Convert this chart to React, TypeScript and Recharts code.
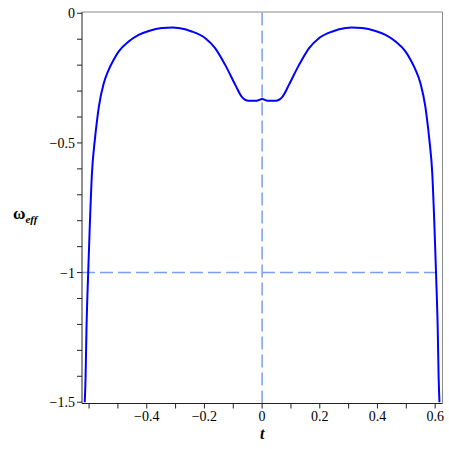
import React from 'react';
import { LineChart, Line, XAxis, YAxis, ReferenceLine, Label } from 'recharts';

const tValues = [
  -0.615, -0.612, -0.609, -0.603, -0.598, -0.59, -0.58, -0.572, -0.566, -0.549, -0.532, -0.515,
  -0.497, -0.463, -0.428, -0.393, -0.347, -0.31, -0.29, -0.244, -0.197, -0.163, -0.128, -0.093,
  -0.071, -0.047, -0.019, 0,
  0.019, 0.047, 0.071, 0.093, 0.128, 0.163, 0.197, 0.244, 0.29, 0.31, 0.347, 0.393, 0.428,
  0.463, 0.497, 0.515, 0.532, 0.549, 0.566, 0.572, 0.58, 0.59, 0.598, 0.603, 0.609, 0.612, 0.615,
];
const omegaValues = [
  -1.5, -1.4, -1.22, -1.0, -0.836, -0.617, -0.488, -0.41, -0.36, -0.27, -0.218, -0.18,
  -0.147, -0.109, -0.083, -0.068, -0.057, -0.055, -0.057, -0.07, -0.096, -0.134, -0.199, -0.276,
  -0.321, -0.337, -0.337, -0.331,
  -0.337, -0.337, -0.321, -0.276, -0.199, -0.134, -0.096, -0.07, -0.057, -0.055, -0.057, -0.068, -0.083,
  -0.109, -0.147, -0.18, -0.218, -0.27, -0.36, -0.41, -0.488, -0.617, -0.836, -1.0, -1.22, -1.4, -1.5,
];
const xTicks = [-0.6, -0.5, -0.4, -0.3, -0.2, -0.1, 0, 0.1, 0.2, 0.3, 0.4, 0.5, 0.6];
const xTickLabels = ['', '', '−0.4', '', '−0.2', '', '0', '', '0.2', '', '0.4', '', '0.6'];
const yTicks = [0, -0.1, -0.2, -0.3, -0.4, -0.5, -0.6, -0.7, -0.8, -0.9, -1, -1.1, -1.2, -1.3, -1.4, -1.5];
const yTickLabels = ['0', '', '', '', '', '−0.5', '', '', '', '', '−1', '', '', '', '', '−1.5'];

const X_DOMAIN: [number, number] = [-0.6245, 0.6255];
const Y_DOMAIN: [number, number] = [-1.505, 0.005];

const data = tValues.map((t, i) => ({ t, w: omegaValues[i] }));

const fontFamily = "'Times New Roman', Times, Tinos, 'Liberation Serif', 'Noto Serif', 'DejaVu Serif', serif";

const fmtX = (v: number) => {
  const i = xTicks.findIndex((x) => Math.abs(x - v) < 1e-9);
  return i >= 0 ? xTickLabels[i] : '';
};
const fmtY = (v: number) => {
  const i = yTicks.findIndex((y) => Math.abs(y - v) < 1e-9);
  return i >= 0 ? yTickLabels[i] : '';
};

export default function App() {
  return (
    <div style={{ position: 'absolute', left: 0, top: 0, width: 449, height: 449, background: '#fff', fontFamily }}>
      <LineChart width={449} height={449} data={data} margin={{ top: 12, right: 6.5, bottom: 0, left: 0 }} style={{ fontFamily }}>
        <XAxis
          dataKey="t"
          type="number"
          domain={X_DOMAIN}
          ticks={xTicks}
          tickFormatter={fmtX}
          interval={0}
          allowDataOverflow
          height={45.5}
          tickSize={5}
          tickMargin={3}
          stroke="#222"
          tick={{ fill: '#000', fontSize: 14, fontFamily, style: { fontFamily } }}
        >
          <Label
            content={(props: any) => {
              const vb = props.viewBox || {};
              return (
                <text
                  x={vb.x + vb.width / 2}
                  y={vb.y + 35}
                  textAnchor="middle"
                  style={{ fontFamily }}
                  fontWeight="bold"
                  fontStyle="italic"
                  fontSize={16}
                  fill="#000"
                >
                  t
                </text>
              );
            }}
          />
        </XAxis>
        <YAxis
          type="number"
          domain={Y_DOMAIN}
          ticks={yTicks}
          tickFormatter={fmtY}
          interval={0}
          allowDataOverflow
          width={82}
          tickSize={5}
          tickMargin={2}
          stroke="#222"
          tick={{ fill: '#000', fontSize: 14, fontFamily, style: { fontFamily } }}
        >
          <Label
            content={() => (
              <text x={13} y={219} style={{ fontFamily }} fill="#000">
                <tspan fontWeight="bold" fontSize={17}>ω</tspan>
                <tspan fontWeight="bold" fontStyle="italic" fontSize={11} dy={4}>eff</tspan>
              </text>
            )}
          />
        </YAxis>
        <ReferenceLine y={Y_DOMAIN[1]} stroke="#8a8a8a" strokeWidth={1} />
        <ReferenceLine x={X_DOMAIN[1]} stroke="#8a8a8a" strokeWidth={1} />
        <ReferenceLine x={0} stroke="#7b9ff0" strokeWidth={1.5} strokeDasharray="13 5" />
        <ReferenceLine y={-1} stroke="#7b9ff0" strokeWidth={1.5} strokeDasharray="13 5" />
        <Line
          type="monotone"
          dataKey="w"
          stroke="#0000ff"
          strokeWidth={2}
          dot={false}
          isAnimationActive={false}
        />
      </LineChart>
    </div>
  );
}
